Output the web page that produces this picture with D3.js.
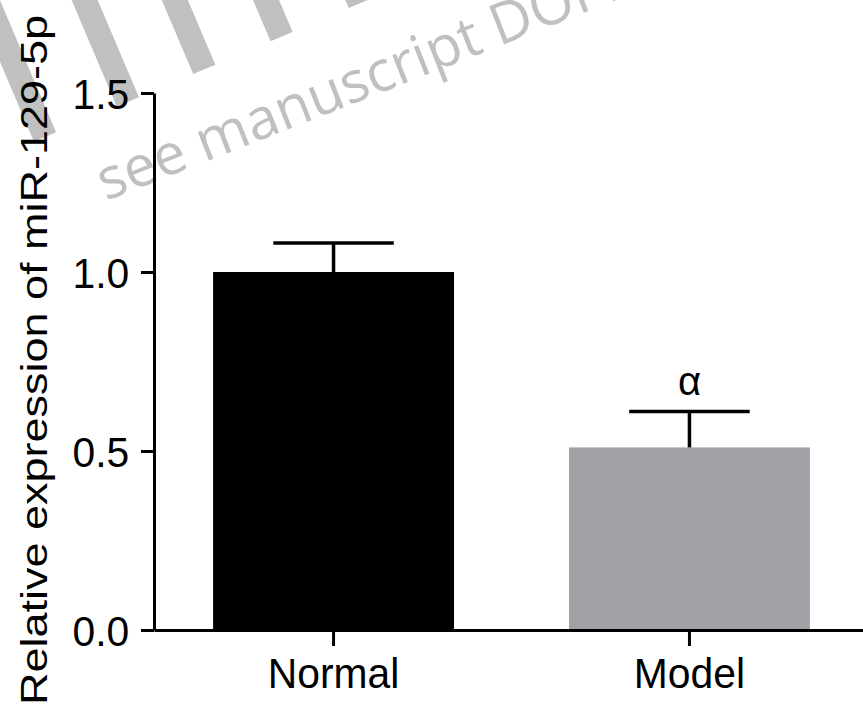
<!DOCTYPE html>
<html>
<head>
<meta charset="utf-8">
<script src="https://cdn.jsdelivr.net/npm/d3@7"></script>
<style>
  html, body { margin: 0; padding: 0; background: #fff; }
  svg { display: block; }
</style>
</head>
<body>
<svg id="chart" width="863" height="718"></svg>
<script>
// values
var groups = ["Normal", "Model"];
var means = [1.0, 0.51];
var sems = [0.081, 0.10];
var marks = ["", "α"];
var yTicks = [0, 0.5, 1.0, 1.5];
var barColors = ["#000000", "#a1a1a5"];

var FONT = "'Liberation Sans', Arial, Helvetica, sans-serif";
var WM_GRAY = "#c0c0c0";

var svg = d3.select("#chart");

var y = d3.scaleLinear()
  .domain([0, 1.5])
  .range([630, 93]);

var x = d3.scaleBand()
  .domain(groups)
  .range([154, 869])
  .paddingInner(0.323)
  .paddingOuter(0.166);

// watermark, drawn under everything (bottoms of big rotated letters + note)
var wm = svg.append("g")
  .attr("transform", "translate(45,137) rotate(-23)");
[0, 90, 173, 257, 342].forEach(function (u) {
  wm.append("rect")
    .attr("x", u - 12)
    .attr("y", -500)
    .attr("width", 24)
    .attr("height", 500)
    .attr("fill", WM_GRAY);
});
svg.append("text")
  .attr("transform", "translate(106,201) rotate(-21.5)")
  .attr("font-family", "'Open Sans', sans-serif")
  .attr("font-size", 57)
  .attr("fill", WM_GRAY)
  .text("see manuscript DOI for details");

var g = svg.append("g");

// bars
g.selectAll("rect.bar")
  .data(groups)
  .enter().append("rect")
  .attr("class", "bar")
  .attr("x", function (d) { return x(d); })
  .attr("y", function (d, i) { return y(means[i]); })
  .attr("width", x.bandwidth())
  .attr("height", function (d, i) { return y(0) - y(means[i]); })
  .attr("fill", function (d, i) { return barColors[i]; });

// error bars (upper only)
var eb = g.selectAll("g.err")
  .data(groups)
  .enter().append("g")
  .attr("class", "err")
  .attr("stroke", "#000")
  .attr("stroke-width", 3.5);
eb.append("line")
  .attr("x1", function (d) { return x(d) + x.bandwidth() / 2; })
  .attr("x2", function (d) { return x(d) + x.bandwidth() / 2; })
  .attr("y1", function (d, i) { return y(means[i]); })
  .attr("y2", function (d, i) { return y(means[i] + sems[i]); });
eb.append("line")
  .attr("x1", function (d) { return x(d) + x.bandwidth() / 4; })
  .attr("x2", function (d) { return x(d) + x.bandwidth() * 3 / 4; })
  .attr("y1", function (d, i) { return y(means[i] + sems[i]); })
  .attr("y2", function (d, i) { return y(means[i] + sems[i]); });

// significance marks
g.selectAll("text.mark")
  .data(groups)
  .enter().append("text")
  .attr("class", "mark")
  .attr("x", function (d) { return x(d) + x.bandwidth() / 2; })
  .attr("y", function (d, i) { return y(means[i] + sems[i]) - 17; })
  .attr("text-anchor", "middle")
  .attr("font-family", FONT)
  .attr("font-size", 40)
  .text(function (d, i) { return marks[i]; });

// axes
var yAxis = svg.append("g")
  .attr("transform", "translate(154,0)")
  .call(d3.axisLeft(y)
    .tickValues(yTicks)
    .tickFormat(d3.format(".1f"))
    .tickSize(13)
    .tickSizeOuter(0)
    .tickPadding(13));

var xAxis = svg.append("g")
  .attr("transform", "translate(0,630)")
  .call(d3.axisBottom(x)
    .tickSize(16)
    .tickSizeOuter(0)
    .tickPadding(11));

[yAxis, xAxis].forEach(function (ax) {
  ax.select(".domain").attr("stroke-width", 3);
  ax.selectAll(".tick line").attr("stroke-width", 3);
  ax.selectAll("text")
    .attr("font-family", FONT)
    .attr("font-size", 43)
    .attr("fill", "#000")
    .attr("transform", "scale(0.95,1)");
});
yAxis.selectAll("text").attr("dy", "0.36em");

// y title, glyphs a bit squashed like in the figure
svg.append("text")
  .attr("transform", "translate(47,360) rotate(-90) scale(1,0.84)")
  .attr("text-anchor", "middle")
  .attr("font-family", FONT)
  .attr("font-size", 45)
  .text("Relative expression of miR-129-5p");
</script>
</body>
</html>
